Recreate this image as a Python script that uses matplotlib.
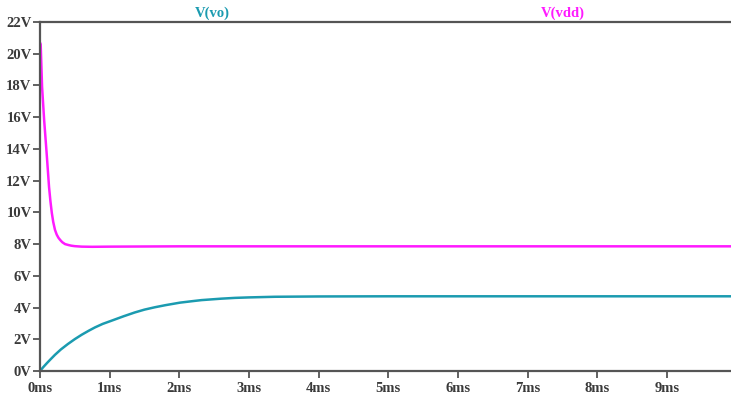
import matplotlib
matplotlib.use("Agg")
import matplotlib.pyplot as plt
import numpy as np

# transient sweep, time in ms, voltages in V
t_vdd = [0.0, 0.01, 0.03, 0.06, 0.096, 0.13, 0.15, 0.17, 0.19, 0.215, 0.24,
         0.265, 0.29, 0.32, 0.36, 0.41, 0.45, 0.5, 0.6, 0.75, 1.0, 1.5, 2.0,
         3.0, 5.0, 7.0, 9.92]
v_vdd = [20.7, 20.6, 17.9, 15.8, 13.7, 11.6, 10.7, 9.96, 9.4, 8.9, 8.6,
         8.4, 8.26, 8.12, 8.0, 7.94, 7.9, 7.87, 7.84, 7.83, 7.84, 7.85, 7.86,
         7.86, 7.86, 7.86, 7.86]

t_vo = [0.0, 0.05, 0.1, 0.15, 0.215, 0.3, 0.4, 0.5, 0.6, 0.7, 0.79, 0.9,
        1.02, 1.2, 1.36, 1.5, 1.65, 1.8, 2.01, 2.2, 2.32, 2.6, 2.8, 3.0,
        3.37, 4.0, 5.0, 7.0, 9.92]
v_vo = [0.0, 0.26, 0.5, 0.73, 1.02, 1.36, 1.7, 2.01, 2.29, 2.54, 2.75, 2.97,
        3.16, 3.45, 3.69, 3.87, 4.02, 4.15, 4.31, 4.41, 4.47, 4.56, 4.61, 4.64,
        4.68, 4.70, 4.71, 4.71, 4.71]

x_ticks = [0, 1, 2, 3, 4, 5, 6, 7, 8, 9]
y_ticks = [0, 2, 4, 6, 8, 10, 12, 14, 16, 18, 20, 22]

VO_COLOR = "#1b9bb0"
VDD_COLOR = "#ff1aff"
AXIS = "#555555"
LABEL = "#3a3a3a"

plt.rcParams["font.family"] = ["Liberation Serif", "DejaVu Serif"]
plt.rcParams["font.weight"] = "bold"

fig = plt.figure(figsize=(7.31, 3.98), dpi=100, facecolor="white")
ax = fig.add_axes([0.0547, 0.0678, 0.9453, 0.8769])

ax.plot(t_vdd, v_vdd, color=VDD_COLOR, linewidth=1.8, solid_joinstyle="round")
ax.plot(t_vo, v_vo, color=VO_COLOR, linewidth=1.8, solid_joinstyle="round")

ax.set_xlim(0, 9.92)
ax.set_ylim(0, 22)
ax.set_xticks(x_ticks)
ax.set_xticklabels([f"{t}ms" for t in x_ticks])
ax.set_yticks(y_ticks)
ax.set_yticklabels([f"{v}V" for v in y_ticks])

ax.spines["right"].set_visible(False)
for side in ("left", "bottom", "top"):
    ax.spines[side].set_color(AXIS)
    ax.spines[side].set_linewidth(1.6)
ax.tick_params(axis="both", direction="out", length=5, width=1.3,
               color=AXIS, labelcolor=LABEL, labelsize=10.5, pad=1)
ax.tick_params(axis="x", pad=3)

ax.text(2.48, 22.15, "V(vo)", color=VO_COLOR, fontsize=10.5,
        fontweight="bold", ha="center", va="bottom")
ax.text(7.5, 22.15, "V(vdd)", color=VDD_COLOR, fontsize=10.5,
        fontweight="bold", ha="center", va="bottom")

fig.savefig("out.png", dpi=100, facecolor="white")
